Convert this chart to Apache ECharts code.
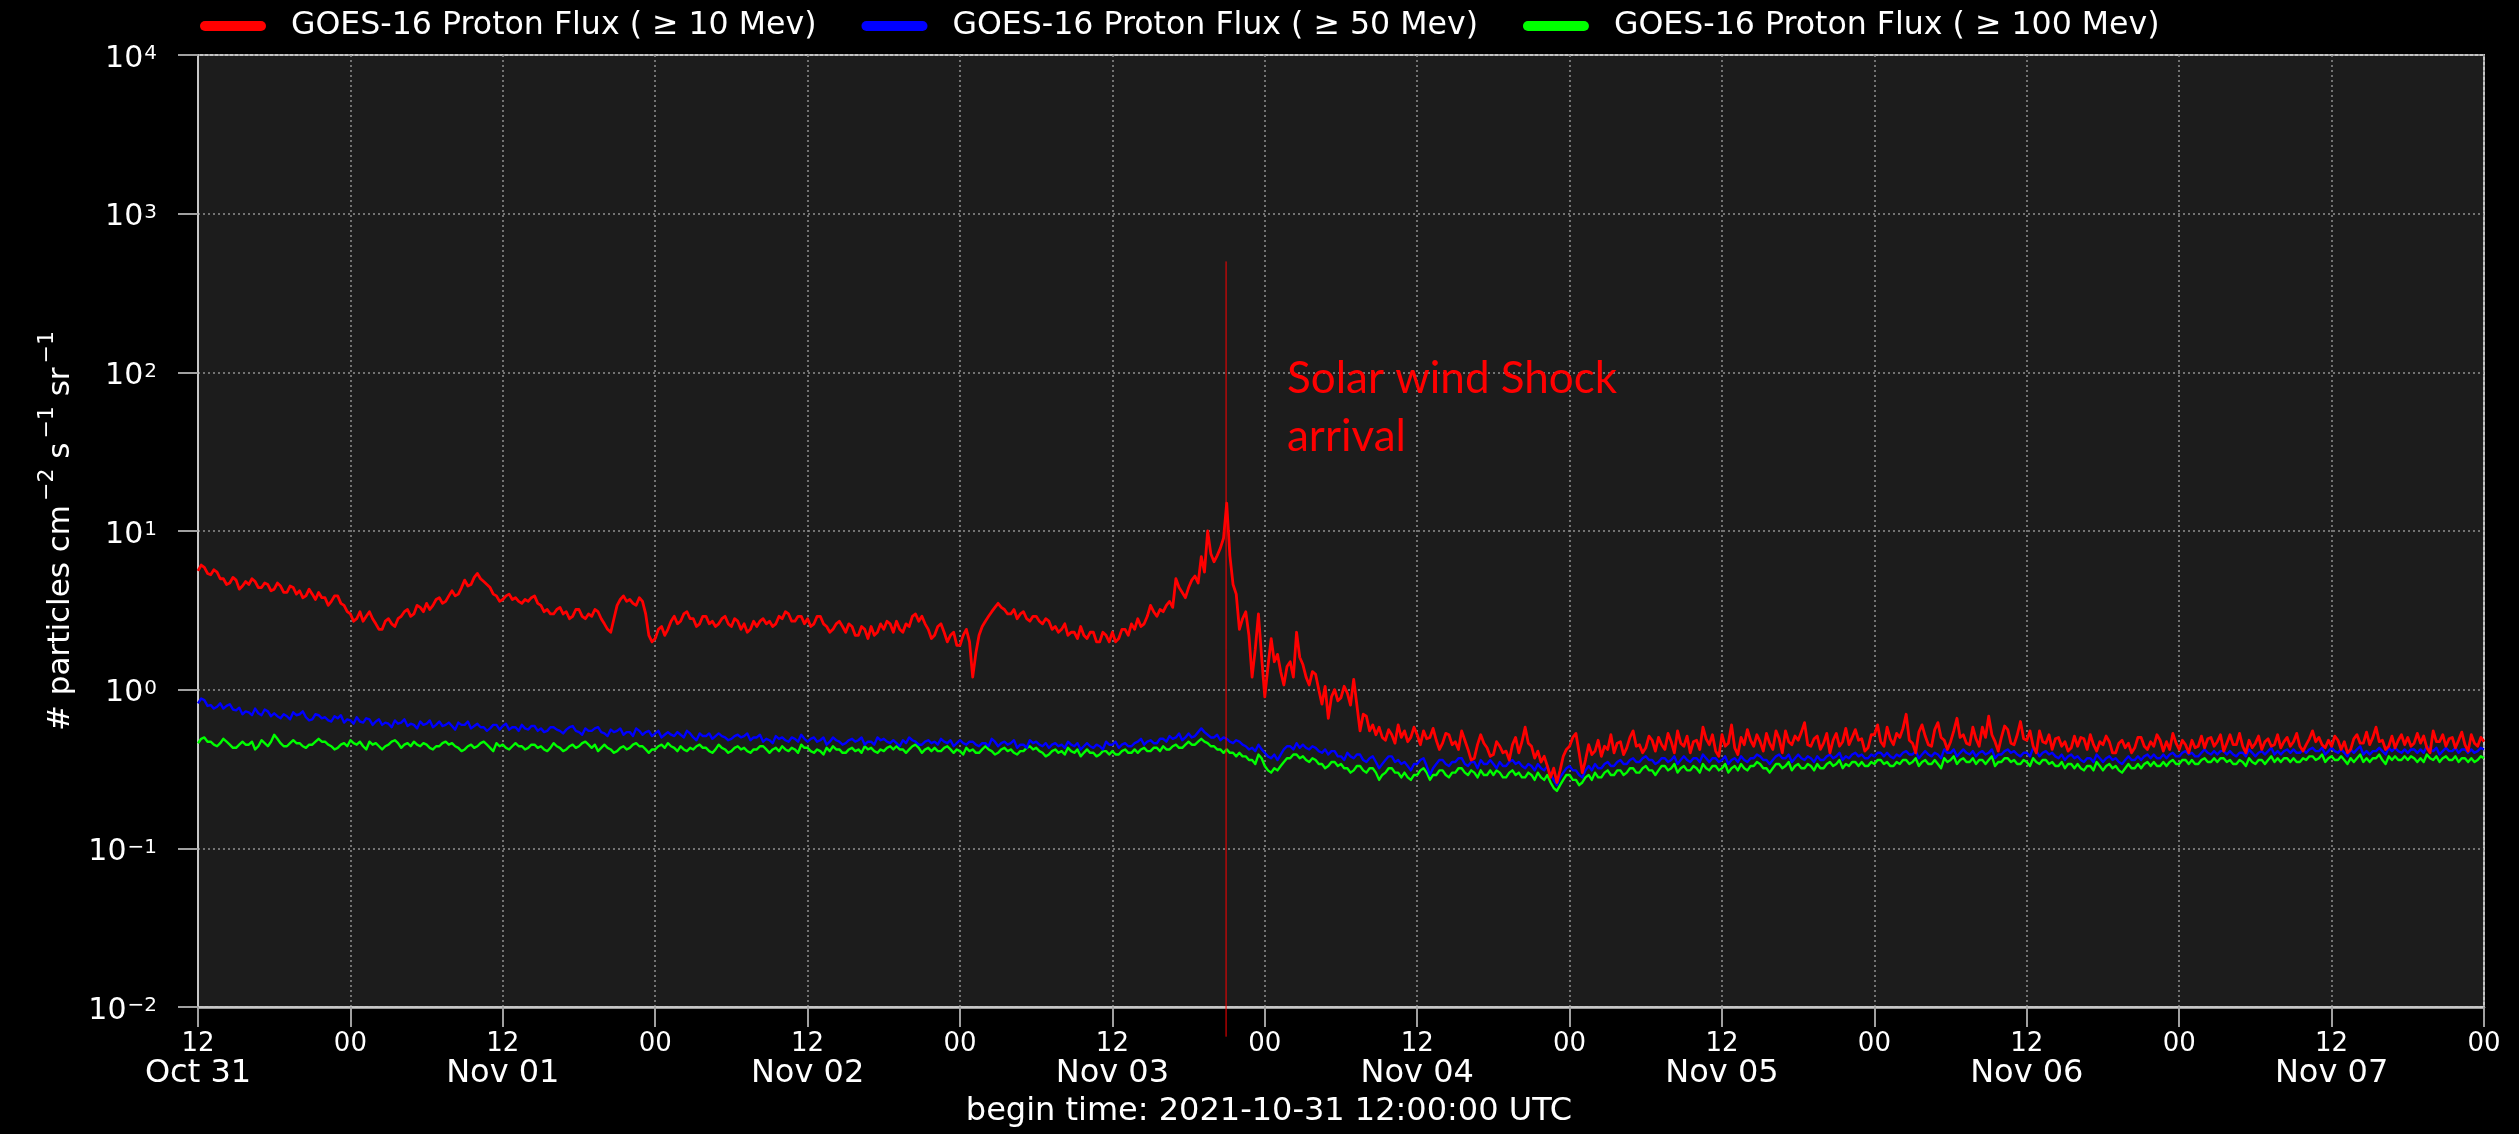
<!DOCTYPE html>
<html>
<head>
<meta charset="utf-8">
<title>GOES-16 Proton Flux</title>
<script src="https://cdn.jsdelivr.net/npm/echarts@6.0.0/dist/echarts.min.js"></script>
<style>
  html, body { margin: 0; padding: 0; background: #000; }
  #chart { width: 2519px; height: 1134px; }
</style>
</head>
<body>
<div id="chart"></div>
<script>
// ---- data -------------------------------------------------------------
const beginTimeLabel = 'begin time: 2021-10-31 12:00:00 UTC';
const stepHours = 0.25;         // sample spacing (hours from begin time)
const spanHours = 180;          // Oct 31 12:00 -> Nov 08 00:00

const xTickLabels = [
  '12\nOct 31', '00', '12\nNov 01', '00', '12\nNov 02', '00', '12\nNov 03', '00',
  '12\nNov 04', '00', '12\nNov 05', '00', '12\nNov 06', '00', '12\nNov 07', '00'
];

const seriesNames = [
  'GOES-16 Proton Flux ( \u2265 10 Mev)',
  'GOES-16 Proton Flux ( \u2265 50 Mev)',
  'GOES-16 Proton Flux ( \u2265 100 Mev)'
];
const seriesColors = ['#ff0000', '#0000ff', '#00ff00'];
const seriesWidths = [2.8, 2.4, 2.4];

// >= 10 MeV, particles cm^-2 s^-1 sr^-1, every 15 min (one row = 5 hours)
const flux10 = [
  5.6,6.1,5.9,5.4, 5.3,5.7,5.5,5.0, 5.0,4.6,4.7,5.1, 4.9,4.3,4.5,4.8, 4.6,5.0,4.8,4.4,
  4.4,4.7,4.6,4.2, 4.3,4.7,4.5,4.1, 4.1,4.5,4.4,4.0, 4.2,3.8,3.9,4.3, 4.0,3.7,4.1,3.8,
  3.8,3.4,3.6,3.9, 3.9,3.5,3.4,3.1, 3.0,2.7,2.8,3.1, 2.7,2.9,3.1,2.8, 2.6,2.4,2.4,2.7,
  2.8,2.6,2.5,2.8, 2.9,3.1,3.2,2.9, 3.0,3.4,3.3,3.1, 3.5,3.2,3.4,3.7, 3.8,3.5,3.6,3.9,
  4.2,3.9,4.0,4.4, 4.9,4.5,4.6,5.1, 5.4,5.0,4.8,4.6, 4.4,4.0,3.9,3.6, 3.7,3.9,4.0,3.7,
  3.8,3.6,3.5,3.7, 3.6,3.8,3.9,3.5, 3.4,3.1,3.2,3.0, 3.0,3.2,3.3,3.0, 3.1,2.8,2.9,3.2,
  3.2,2.9,2.8,3.0, 2.9,3.2,3.1,2.8, 2.6,2.4,2.3,2.8, 3.4,3.7,3.9,3.6, 3.7,3.5,3.4,3.8,
  3.6,3.0,2.2,2.0, 2.1,2.4,2.5,2.2, 2.4,2.7,2.9,2.6, 2.7,3.0,3.1,2.8, 2.8,2.5,2.6,2.9,
  2.9,2.6,2.7,2.5, 2.6,2.8,2.9,2.6, 2.5,2.8,2.7,2.4, 2.6,2.3,2.4,2.7, 2.5,2.7,2.8,2.6,
  2.7,2.5,2.6,2.9, 2.8,3.1,3.0,2.7, 2.7,2.9,2.9,2.6, 2.8,2.5,2.6,2.9, 2.9,2.6,2.5,2.3,
  2.4,2.6,2.7,2.5, 2.3,2.6,2.5,2.2, 2.2,2.5,2.4,2.1, 2.5,2.2,2.3,2.6, 2.4,2.7,2.6,2.3,
  2.7,2.4,2.3,2.6, 2.5,2.9,3.0,2.7, 2.9,2.6,2.4,2.1, 2.2,2.5,2.6,2.3, 2.0,2.2,2.3,1.9,
  1.9,2.2,2.4,2.0, 1.2,1.7,2.2,2.5, 2.7,2.9,3.1,3.3, 3.5,3.3,3.2,3.0, 3.0,3.2,2.8,3.0,
  3.1,2.8,2.7,2.9, 2.9,2.7,2.6,2.8, 2.7,2.4,2.5,2.3, 2.4,2.6,2.2,2.3, 2.3,2.1,2.5,2.2,
  2.1,2.3,2.3,2.0, 2.0,2.3,2.2,2.0, 2.3,2.0,2.1,2.4, 2.4,2.2,2.6,2.4, 2.8,2.5,2.6,2.9,
  3.4,3.1,2.9,3.2, 3.1,3.4,3.6,3.3, 5.0,4.4,4.1,3.8, 4.4,4.9,5.2,4.7, 6.9,5.5,10.0,7.2,
  6.4,7.0,7.8,9.0, 15.0,7.0,4.6,4.0, 2.4,2.8,3.1,2.2, 1.2,1.8,3.0,1.6, 0.9,1.4,2.1,1.5,
  1.67,1.3,1.07,1.4, 1.5,1.2,2.3,1.6, 1.44,1.2,1.07,1.3, 1.25,1.0,0.81,1.05, 0.66,0.9,1.0,0.85,
  0.89,1.05,0.95,0.8, 1.16,0.8,0.55,0.7, 0.68,0.55,0.60,0.52, 0.58,0.50,0.48,0.56, 0.52,0.46,0.60,0.50,
  0.55,0.47,0.50,0.58, 0.52,0.45,0.55,0.49, 0.50,0.57,0.48,0.42, 0.46,0.53,0.52,0.45, 0.47,0.42,0.55,0.48,
  0.42,0.36,0.37,0.45, 0.52,0.46,0.43,0.38, 0.39,0.47,0.44,0.40, 0.41,0.36,0.45,0.50, 0.40,0.47,0.58,0.46,
  0.44,0.37,0.41,0.35, 0.38,0.33,0.28,0.32, 0.26,0.31,0.38,0.42, 0.44,0.50,0.53,0.40, 0.30,0.36,0.45,0.39,
  0.41,0.48,0.38,0.44, 0.42,0.52,0.40,0.46, 0.47,0.39,0.43,0.50, 0.55,0.44,0.45,0.40, 0.43,0.51,0.48,0.41,
  0.50,0.45,0.42,0.53, 0.47,0.40,0.55,0.46, 0.44,0.51,0.40,0.47, 0.48,0.42,0.58,0.49, 0.45,0.52,0.41,0.38,
  0.52,0.44,0.46,0.60, 0.43,0.39,0.50,0.45, 0.56,0.48,0.44,0.52, 0.47,0.41,0.53,0.46, 0.42,0.55,0.49,0.40,
  0.55,0.47,0.45,0.51, 0.48,0.54,0.62,0.45, 0.44,0.49,0.51,0.42, 0.46,0.53,0.40,0.48, 0.53,0.44,0.47,0.57,
  0.45,0.50,0.56,0.48, 0.49,0.41,0.43,0.52, 0.52,0.60,0.47,0.44, 0.58,0.49,0.45,0.53, 0.50,0.57,0.70,0.48,
  0.46,0.40,0.54,0.60, 0.51,0.45,0.44,0.56, 0.62,0.50,0.48,0.42, 0.47,0.55,0.66,0.50, 0.52,0.46,0.45,0.58,
  0.49,0.44,0.58,0.50, 0.68,0.52,0.47,0.41, 0.50,0.59,0.56,0.46, 0.45,0.52,0.63,0.49, 0.48,0.55,0.44,0.40,
  0.55,0.47,0.46,0.52, 0.42,0.49,0.50,0.44, 0.47,0.41,0.43,0.51, 0.44,0.50,0.49,0.42, 0.52,0.45,0.41,0.47,
  0.45,0.51,0.47,0.40, 0.40,0.46,0.48,0.43, 0.46,0.40,0.43,0.50, 0.50,0.44,0.42,0.47, 0.44,0.52,0.48,0.41,
  0.47,0.42,0.53,0.46, 0.42,0.48,0.45,0.40, 0.48,0.43,0.44,0.51, 0.43,0.49,0.50,0.44, 0.47,0.52,0.41,0.46,
  0.52,0.45,0.45,0.53, 0.44,0.40,0.48,0.43, 0.46,0.51,0.42,0.47, 0.49,0.44,0.45,0.52, 0.43,0.47,0.50,0.44,
  0.47,0.53,0.44,0.41, 0.45,0.49,0.55,0.47, 0.50,0.45,0.43,0.48, 0.44,0.51,0.48,0.42, 0.47,0.40,0.42,0.49,
  0.52,0.46,0.46,0.54, 0.45,0.50,0.58,0.47, 0.48,0.42,0.44,0.51, 0.43,0.48,0.52,0.45, 0.50,0.44,0.46,0.53,
  0.46,0.51,0.43,0.40, 0.55,0.47,0.47,0.52, 0.44,0.49,0.50,0.43, 0.48,0.54,0.45,0.41, 0.52,0.46,0.44,0.50,
  0.47
];

// >= 50 MeV
const flux50 = [
  0.82,0.88,0.86,0.79, 0.80,0.76,0.78,0.82, 0.76,0.79,0.81,0.75, 0.74,0.77,0.70,0.73, 0.72,0.69,0.76,0.71,
  0.69,0.75,0.73,0.68, 0.71,0.68,0.66,0.70, 0.68,0.65,0.72,0.69, 0.70,0.73,0.67,0.64, 0.65,0.70,0.69,0.66,
  0.67,0.64,0.63,0.68, 0.66,0.69,0.62,0.65, 0.64,0.61,0.67,0.63, 0.62,0.66,0.65,0.60, 0.63,0.65,0.60,0.62,
  0.61,0.58,0.64,0.61, 0.62,0.65,0.59,0.61, 0.60,0.57,0.63,0.60, 0.61,0.64,0.58,0.60, 0.63,0.59,0.60,0.62,
  0.59,0.56,0.62,0.60, 0.60,0.63,0.57,0.59, 0.61,0.58,0.58,0.55, 0.57,0.60,0.60,0.56, 0.59,0.61,0.56,0.58,
  0.58,0.55,0.60,0.57, 0.56,0.59,0.59,0.55, 0.57,0.54,0.55,0.58, 0.58,0.56,0.55,0.53, 0.56,0.58,0.59,0.55,
  0.54,0.52,0.57,0.55, 0.55,0.57,0.58,0.54, 0.53,0.51,0.56,0.54, 0.55,0.57,0.52,0.54, 0.54,0.51,0.57,0.55,
  0.52,0.54,0.55,0.51, 0.53,0.55,0.50,0.52, 0.54,0.52,0.51,0.54, 0.52,0.50,0.55,0.53, 0.50,0.48,0.53,0.51,
  0.51,0.53,0.49,0.51, 0.53,0.51,0.50,0.48, 0.49,0.51,0.52,0.50, 0.51,0.53,0.48,0.50, 0.50,0.52,0.47,0.49,
  0.48,0.46,0.51,0.49, 0.50,0.48,0.47,0.50, 0.49,0.47,0.52,0.49, 0.47,0.49,0.50,0.47, 0.48,0.50,0.45,0.47,
  0.50,0.48,0.47,0.45, 0.46,0.48,0.49,0.47, 0.48,0.50,0.45,0.47, 0.47,0.45,0.50,0.48, 0.49,0.47,0.46,0.48,
  0.46,0.44,0.48,0.46, 0.50,0.48,0.47,0.45, 0.45,0.47,0.48,0.46, 0.47,0.45,0.49,0.47, 0.46,0.48,0.44,0.46,
  0.48,0.46,0.45,0.47, 0.47,0.45,0.44,0.46, 0.46,0.44,0.49,0.47, 0.44,0.46,0.47,0.45, 0.46,0.48,0.43,0.45,
  0.45,0.43,0.48,0.46, 0.47,0.45,0.44,0.46, 0.43,0.45,0.46,0.44, 0.45,0.43,0.47,0.45, 0.44,0.46,0.42,0.44,
  0.46,0.44,0.43,0.45, 0.44,0.42,0.47,0.45, 0.45,0.47,0.43,0.45, 0.46,0.44,0.44,0.46, 0.47,0.49,0.45,0.47,
  0.48,0.46,0.46,0.49, 0.49,0.47,0.51,0.49, 0.50,0.53,0.48,0.50, 0.53,0.50,0.51,0.54, 0.57,0.54,0.52,0.50,
  0.50,0.52,0.48,0.50, 0.49,0.47,0.46,0.48, 0.47,0.45,0.44,0.42, 0.43,0.41,0.45,0.42, 0.40,0.38,0.37,0.39,
  0.36,0.39,0.42,0.44, 0.44,0.42,0.46,0.43, 0.45,0.43,0.42,0.44, 0.43,0.41,0.40,0.42, 0.39,0.41,0.41,0.38,
  0.38,0.36,0.40,0.38, 0.37,0.39,0.39,0.36, 0.35,0.37,0.38,0.35, 0.32,0.34,0.36,0.38, 0.38,0.35,0.36,0.34,
  0.35,0.33,0.31,0.34, 0.34,0.36,0.37,0.33, 0.29,0.32,0.34,0.36, 0.36,0.34,0.33,0.35, 0.35,0.37,0.37,0.34,
  0.33,0.35,0.35,0.32, 0.36,0.34,0.34,0.36, 0.34,0.32,0.35,0.33, 0.33,0.35,0.36,0.34, 0.35,0.33,0.32,0.34,
  0.33,0.31,0.34,0.32, 0.31,0.33,0.29,0.27, 0.25,0.28,0.30,0.32, 0.33,0.31,0.31,0.29, 0.28,0.31,0.33,0.31,
  0.34,0.32,0.32,0.34, 0.35,0.33,0.33,0.35, 0.36,0.34,0.34,0.36, 0.37,0.35,0.35,0.37, 0.38,0.36,0.36,0.34,
  0.35,0.37,0.37,0.35, 0.36,0.38,0.34,0.36, 0.38,0.36,0.35,0.37, 0.37,0.35,0.39,0.37, 0.35,0.37,0.37,0.35,
  0.36,0.38,0.34,0.36, 0.37,0.35,0.38,0.36, 0.35,0.37,0.37,0.39, 0.38,0.36,0.36,0.34, 0.36,0.38,0.39,0.37,
  0.37,0.39,0.35,0.37, 0.39,0.37,0.36,0.38, 0.37,0.35,0.38,0.36, 0.36,0.38,0.39,0.37, 0.38,0.40,0.36,0.38,
  0.37,0.39,0.40,0.38, 0.39,0.37,0.37,0.39, 0.38,0.40,0.40,0.38, 0.40,0.38,0.37,0.39, 0.38,0.40,0.41,0.39,
  0.39,0.41,0.37,0.39, 0.41,0.39,0.38,0.40, 0.39,0.37,0.42,0.40, 0.40,0.42,0.38,0.40, 0.42,0.40,0.39,0.41,
  0.38,0.40,0.41,0.39, 0.40,0.42,0.37,0.39, 0.39,0.41,0.42,0.40, 0.41,0.39,0.38,0.40, 0.40,0.38,0.43,0.41,
  0.38,0.40,0.41,0.39, 0.40,0.38,0.37,0.39, 0.36,0.38,0.39,0.37, 0.38,0.36,0.35,0.37, 0.37,0.35,0.39,0.37,
  0.35,0.37,0.38,0.36, 0.37,0.35,0.34,0.36, 0.38,0.36,0.36,0.38, 0.36,0.38,0.39,0.37, 0.39,0.37,0.37,0.39,
  0.37,0.39,0.40,0.38, 0.38,0.40,0.41,0.39, 0.40,0.38,0.38,0.40, 0.42,0.40,0.39,0.41, 0.39,0.41,0.41,0.39,
  0.41,0.39,0.38,0.40, 0.40,0.38,0.42,0.40, 0.38,0.40,0.41,0.39, 0.41,0.43,0.39,0.41, 0.39,0.41,0.42,0.40,
  0.42,0.40,0.40,0.42, 0.40,0.42,0.43,0.41, 0.41,0.43,0.39,0.41, 0.43,0.41,0.40,0.42, 0.40,0.38,0.42,0.40,
  0.42,0.44,0.39,0.41, 0.39,0.41,0.41,0.43, 0.41,0.39,0.43,0.41, 0.43,0.41,0.40,0.42, 0.40,0.42,0.42,0.40,
  0.42,0.40,0.44,0.42, 0.41,0.43,0.39,0.41, 0.43,0.41,0.41,0.43, 0.40,0.42,0.42,0.40, 0.42,0.40,0.41,0.43,
  0.42
];

// >= 100 MeV
const flux100 = [
  0.46,0.49,0.50,0.47, 0.47,0.45,0.44,0.46, 0.49,0.47,0.45,0.43, 0.43,0.45,0.47,0.45, 0.45,0.47,0.42,0.44,
  0.48,0.46,0.44,0.47, 0.52,0.49,0.46,0.44, 0.44,0.46,0.48,0.46, 0.46,0.44,0.43,0.45, 0.45,0.47,0.49,0.47,
  0.47,0.45,0.44,0.42, 0.43,0.45,0.46,0.44, 0.48,0.46,0.45,0.47, 0.44,0.42,0.47,0.45, 0.46,0.44,0.42,0.44,
  0.45,0.47,0.48,0.46, 0.43,0.45,0.46,0.44, 0.47,0.45,0.44,0.46, 0.45,0.43,0.42,0.44, 0.44,0.46,0.47,0.45,
  0.46,0.44,0.43,0.41, 0.42,0.44,0.45,0.43, 0.44,0.46,0.47,0.45, 0.43,0.41,0.46,0.44, 0.45,0.43,0.42,0.44,
  0.46,0.44,0.44,0.42, 0.43,0.45,0.45,0.43, 0.44,0.42,0.41,0.43, 0.46,0.44,0.43,0.41, 0.42,0.44,0.45,0.43,
  0.44,0.46,0.47,0.45, 0.43,0.45,0.41,0.43, 0.45,0.43,0.42,0.40, 0.41,0.43,0.44,0.42, 0.43,0.45,0.46,0.44,
  0.44,0.42,0.40,0.42, 0.42,0.44,0.45,0.43, 0.46,0.44,0.43,0.41, 0.44,0.42,0.41,0.43, 0.42,0.44,0.45,0.43,
  0.43,0.41,0.40,0.42, 0.45,0.43,0.42,0.40, 0.41,0.43,0.44,0.42, 0.43,0.41,0.40,0.42, 0.42,0.44,0.44,0.42,
  0.40,0.42,0.43,0.41, 0.44,0.42,0.41,0.43, 0.42,0.40,0.45,0.43, 0.43,0.41,0.40,0.42, 0.41,0.39,0.43,0.41,
  0.44,0.42,0.42,0.40, 0.40,0.42,0.43,0.41, 0.42,0.40,0.44,0.42, 0.43,0.41,0.40,0.42, 0.41,0.43,0.44,0.42,
  0.44,0.42,0.42,0.40, 0.42,0.44,0.45,0.43, 0.40,0.42,0.43,0.41, 0.43,0.41,0.41,0.43, 0.44,0.42,0.40,0.42,
  0.41,0.39,0.43,0.41, 0.42,0.40,0.40,0.42, 0.44,0.42,0.41,0.39, 0.40,0.42,0.43,0.41, 0.42,0.40,0.39,0.41,
  0.41,0.43,0.44,0.42, 0.43,0.41,0.40,0.38, 0.39,0.41,0.42,0.40, 0.41,0.39,0.43,0.41, 0.40,0.42,0.38,0.40,
  0.42,0.40,0.40,0.38, 0.39,0.41,0.41,0.39, 0.41,0.39,0.39,0.41, 0.42,0.40,0.40,0.42, 0.40,0.42,0.43,0.41,
  0.41,0.43,0.43,0.41, 0.44,0.42,0.42,0.44, 0.45,0.43,0.43,0.45, 0.47,0.45,0.45,0.47, 0.49,0.47,0.46,0.44,
  0.44,0.42,0.42,0.40, 0.42,0.40,0.40,0.38, 0.40,0.38,0.38,0.36, 0.36,0.34,0.39,0.37, 0.33,0.31,0.30,0.32,
  0.31,0.33,0.35,0.37, 0.37,0.39,0.39,0.37, 0.38,0.36,0.35,0.37, 0.36,0.34,0.34,0.32, 0.33,0.35,0.35,0.33,
  0.34,0.32,0.32,0.30, 0.31,0.33,0.33,0.31, 0.30,0.32,0.32,0.30, 0.27,0.29,0.30,0.32, 0.32,0.30,0.30,0.28,
  0.30,0.28,0.27,0.29, 0.29,0.31,0.32,0.30, 0.27,0.29,0.29,0.31, 0.31,0.29,0.28,0.30, 0.30,0.32,0.32,0.30,
  0.29,0.31,0.30,0.28, 0.31,0.29,0.29,0.31, 0.29,0.31,0.30,0.28, 0.28,0.30,0.31,0.29, 0.30,0.28,0.28,0.30,
  0.29,0.27,0.30,0.28, 0.27,0.29,0.26,0.24, 0.23,0.25,0.27,0.29, 0.29,0.27,0.27,0.25, 0.26,0.28,0.29,0.27,
  0.30,0.28,0.28,0.30, 0.31,0.29,0.29,0.31, 0.31,0.29,0.30,0.32, 0.32,0.30,0.30,0.32, 0.33,0.31,0.31,0.29,
  0.31,0.33,0.33,0.31, 0.32,0.34,0.30,0.32, 0.33,0.31,0.31,0.33, 0.32,0.30,0.34,0.32, 0.31,0.33,0.33,0.31,
  0.32,0.34,0.30,0.32, 0.33,0.31,0.34,0.32, 0.31,0.33,0.33,0.35, 0.34,0.32,0.32,0.30, 0.32,0.34,0.34,0.32,
  0.33,0.35,0.31,0.33, 0.34,0.32,0.32,0.34, 0.33,0.31,0.34,0.32, 0.32,0.34,0.35,0.33, 0.34,0.36,0.32,0.34,
  0.33,0.35,0.35,0.33, 0.35,0.33,0.33,0.35, 0.34,0.36,0.36,0.34, 0.35,0.33,0.33,0.35, 0.34,0.36,0.36,0.34,
  0.35,0.37,0.33,0.35, 0.36,0.34,0.34,0.36, 0.34,0.32,0.37,0.35, 0.36,0.38,0.34,0.36, 0.37,0.35,0.35,0.37,
  0.34,0.36,0.36,0.34, 0.36,0.38,0.33,0.35, 0.35,0.37,0.37,0.35, 0.36,0.34,0.34,0.36, 0.35,0.33,0.37,0.35,
  0.34,0.36,0.36,0.34, 0.35,0.33,0.33,0.35, 0.32,0.34,0.34,0.32, 0.34,0.32,0.31,0.33, 0.33,0.31,0.35,0.33,
  0.31,0.33,0.34,0.32, 0.33,0.31,0.30,0.32, 0.34,0.32,0.32,0.34, 0.32,0.34,0.35,0.33, 0.35,0.33,0.33,0.35,
  0.33,0.35,0.36,0.34, 0.34,0.36,0.36,0.34, 0.36,0.34,0.34,0.36, 0.37,0.35,0.35,0.37, 0.35,0.37,0.37,0.35,
  0.36,0.34,0.34,0.36, 0.35,0.33,0.37,0.35, 0.34,0.36,0.36,0.34, 0.36,0.38,0.35,0.37, 0.35,0.37,0.37,0.35,
  0.37,0.35,0.35,0.37, 0.36,0.38,0.38,0.36, 0.37,0.39,0.35,0.37, 0.38,0.36,0.36,0.38, 0.36,0.34,0.37,0.35,
  0.37,0.39,0.35,0.37, 0.35,0.37,0.37,0.39, 0.36,0.34,0.38,0.36, 0.38,0.36,0.36,0.38, 0.36,0.38,0.37,0.35,
  0.37,0.35,0.39,0.37, 0.36,0.38,0.35,0.37, 0.38,0.36,0.36,0.38, 0.35,0.37,0.37,0.35, 0.37,0.35,0.36,0.38,
  0.37
];

// shock arrival marker (hours from begin time) and its vertical extent
const shockHour = 80.95;
const shockExtent = [0.0065, 500];
const shockNote = 'Solar wind Shock\narrival';

// ---- chart ------------------------------------------------------------
const FONT = 'DejaVu Sans';
const toPoints = arr => arr.map((v, i) => [i * stepHours, v]);
const fluxSets = [flux10, flux50, flux100];

const lineSeries = fluxSets.map((arr, k) => ({
  name: seriesNames[k],
  type: 'line',
  data: toPoints(arr),
  showSymbol: false,
  symbol: 'none',
  color: seriesColors[k],
  lineStyle: { color: seriesColors[k], width: seriesWidths[k], join: 'round' },
  z: 4 - k,
  animation: false
}));

lineSeries.push({
  name: 'shock',
  type: 'line',
  data: [[shockHour, shockExtent[0]], [shockHour, shockExtent[1]]],
  showSymbol: false,
  symbol: 'none',
  clip: false,
  silent: true,
  lineStyle: { color: '#ff0000', width: 1 },
  z: 6,
  animation: false
});

const legendIcon = 'path://M5,0 H61 A5,5 0 0 1 61,10 H5 A5,5 0 0 1 5,0 Z';

const supLabel = v => {
  const e = Math.round(Math.log10(v));
  return '{b|10}{s|' + (e < 0 ? '\u2212' : '') + Math.abs(e) + '}';
};

const chart = echarts.init(document.getElementById('chart'), null, { renderer: 'canvas' });

chart.setOption({
  backgroundColor: '#000000',
  animation: false,
  textStyle: { fontFamily: FONT },
  legend: {
    data: seriesNames,
    left: 200,
    top: 10,
    padding: 0,
    itemWidth: 66,
    itemHeight: 10,
    itemGap: 45,
    icon: legendIcon,
    selectedMode: false,
    textStyle: { color: '#ffffff', fontSize: 31.6, fontFamily: FONT, padding: [0, 0, 0, 20] }
  },
  grid: {
    left: 198, right: 35, top: 55, bottom: 127,
    show: true,
    backgroundColor: '#1c1c1c',
    borderColor: '#c4c4c4',
    borderWidth: 2
  },
  xAxis: {
    type: 'value',
    min: 0,
    max: spanHours,
    interval: 12,
    axisLine: { show: true, onZero: false, lineStyle: { color: '#c8c8c8', width: 2.5 } },
    axisTick: { show: true, length: 20, lineStyle: { color: '#a0a0a0', width: 2 } },
    splitLine: { show: true, lineStyle: { color: '#909090', width: 1.5, type: [2, 3] } },
    axisLabel: {
      margin: 24,
      showMinLabel: true,
      showMaxLabel: true,
      color: '#ffffff',
      formatter: v => {
        const parts = xTickLabels[Math.round(v / 12)].split('\n');
        return parts.length > 1 ? '{h|' + parts[0] + '}\n{d|' + parts[1] + '}' : '{h|' + parts[0] + '}';
      },
      rich: {
        h: { fontSize: 26, lineHeight: 27, color: '#ffffff', fontFamily: FONT },
        d: { fontSize: 32, lineHeight: 32, color: '#ffffff', fontFamily: FONT }
      }
    }
  },
  yAxis: {
    type: 'log',
    logBase: 10,
    min: 0.01,
    max: 10000,
    splitNumber: 6,
    name: '{n|# particles cm}{s|\u22122}{n| s}{s|\u22121}{n| sr}{s|\u22121}',
    nameLocation: 'middle',
    nameGap: 122,
    nameTextStyle: {
      rich: {
        n: { fontSize: 31, lineHeight: 40, verticalAlign: 'bottom', color: '#ffffff', fontFamily: FONT },
        s: { fontSize: 22, lineHeight: 22, verticalAlign: 'bottom', padding: [0, 0, 18, 4], color: '#ffffff', fontFamily: FONT }
      }
    },
    axisLine: { show: true, lineStyle: { color: '#c8c8c8', width: 2 } },
    axisTick: { show: true, length: 20, lineStyle: { color: '#a0a0a0', width: 2 } },
    minorTick: { show: false },
    splitLine: { show: true, lineStyle: { color: '#909090', width: 1.5, type: [2, 3] } },
    axisLabel: {
      margin: 41,
      padding: [8, 0, 0, 0],
      formatter: supLabel,
      rich: {
        b: { fontSize: 30, lineHeight: 30, verticalAlign: 'bottom', color: '#ffffff', fontFamily: FONT },
        s: { fontSize: 20, lineHeight: 20, verticalAlign: 'bottom', padding: [0, 0, 10, 1], color: '#ffffff', fontFamily: FONT }
      }
    }
  },
  graphic: [
    {
      type: 'text',
      left: 1287,
      top: 350,
      z: 10,
      style: { text: shockNote, fill: '#ff0000', font: '44px Lato', lineHeight: 58 }
    },
    {
      type: 'text',
      x: 1269,
      y: 1112,
      z: 10,
      style: { text: beginTimeLabel, fill: '#ffffff', font: '32px "DejaVu Sans"', align: 'center', verticalAlign: 'middle' }
    }
  ],
  series: lineSeries
});
</script>
</body>
</html>
